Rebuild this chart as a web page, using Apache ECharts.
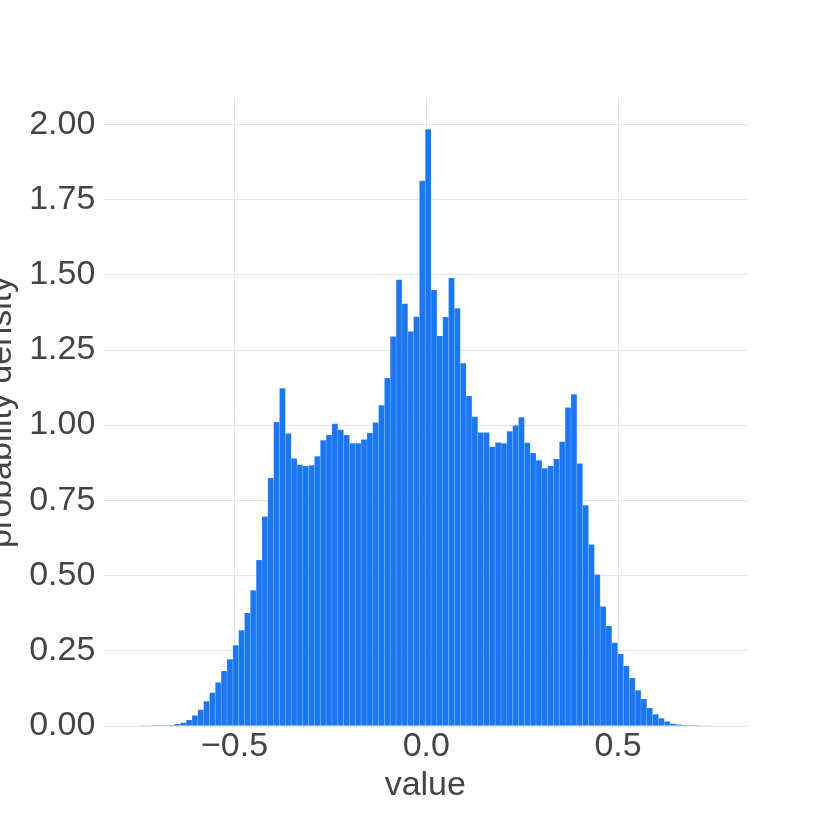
<!DOCTYPE html>
<html>
<head>
<meta charset="utf-8">
<script src="https://cdn.jsdelivr.net/npm/echarts@6/dist/echarts.min.js"></script>
<style>html,body{margin:0;padding:0;background:#fff;}#chart{width:830px;height:830px;}</style>
</head>
<body>
<div id="chart"></div>
<script>
// Histogram bins (regular width), density per bin
const firstBinStart = -0.7626;
const binWidth = 0.0152;
const densities = [
  0.0005, 0.001, 0.001, 0.0015, 0.002, 0.002, 0.003, 0.006, 0.010, 0.019,
  0.034, 0.053, 0.082, 0.110, 0.144, 0.182, 0.221, 0.268, 0.318, 0.375,
  0.451, 0.551, 0.696, 0.824, 1.010, 1.122, 0.972, 0.889, 0.868, 0.864,
  0.866, 0.896, 0.949, 0.967, 1.004, 0.984, 0.967, 0.939, 0.939, 0.952,
  0.973, 1.008, 1.066, 1.156, 1.294, 1.483, 1.403, 1.311, 1.360, 1.812,
  1.983, 1.449, 1.296, 1.359, 1.489, 1.388, 1.205, 1.096, 1.027, 0.975,
  0.975, 0.928, 0.942, 0.939, 0.979, 0.998, 1.026, 0.941, 0.907, 0.883,
  0.856, 0.864, 0.887, 0.944, 1.058, 1.102, 0.872, 0.733, 0.603, 0.503,
  0.397, 0.332, 0.276, 0.239, 0.199, 0.159, 0.118, 0.089, 0.059, 0.038,
  0.025, 0.014, 0.007, 0.004, 0.003, 0.002, 0.0015, 0.001, 0.001, 0.0005,
  0.0005
];
const xTicks = [-0.5, 0, 0.5];
const yTicks = [0, 0.25, 0.5, 0.75, 1.0, 1.25, 1.5, 1.75, 2.0];
const xTitle = 'value';
const yTitle = 'probability density';

const data = densities.map((d, i) => {
  const left = firstBinStart + i * binWidth;
  return [left, left + binWidth, d];
});

const chart = echarts.init(document.getElementById('chart'), null, {renderer: 'canvas'});
const fontFamily = '"Liberation Sans", Arial, sans-serif';
const textColor = '#444';
const gridColor = '#e6e6e6';

chart.setOption({
  backgroundColor: '#fff',
  animation: false,
  grid: {left: 103.3, top: 98, width: 644, height: 627.8, containLabel: false, outerBoundsMode: 'none'},
  xAxis: {
    type: 'value',
    min: -0.842,
    max: 0.837,
    name: xTitle,
    nameLocation: 'middle',
    nameGap: 40,
    nameTextStyle: {fontSize: 34, color: textColor, fontFamily: fontFamily},
    axisLine: {show: true, lineStyle: {color: gridColor, width: 1}},
    axisTick: {show: false, customValues: xTicks},
    axisLabel: {
      customValues: xTicks,
      fontSize: 34, color: textColor, fontFamily: fontFamily, margin: 4,
      formatter: v => (v < 0 ? '\u2212' + Math.abs(v).toFixed(1) : v.toFixed(1))
    },
    splitLine: {show: true, lineStyle: {color: gridColor, width: 1}}
  },
  yAxis: {
    type: 'value',
    min: 0,
    max: 2.087,
    name: yTitle,
    nameLocation: 'middle',
    nameGap: 78,
    nameTextStyle: {fontSize: 34, color: textColor, fontFamily: fontFamily},
    axisLine: {show: false},
    axisTick: {show: false, customValues: yTicks},
    axisLabel: {
      customValues: yTicks,
      fontSize: 34, color: textColor, fontFamily: fontFamily, margin: 8,
      formatter: v => v.toFixed(2)
    },
    splitLine: {show: true, lineStyle: {color: gridColor, width: 1}}
  },
  series: [{
    type: 'custom',
    clip: true,
    encode: {x: [0, 1], y: 2},
    data: data,
    renderItem: function (params, api) {
      const p0 = api.coord([api.value(0), api.value(2)]);
      const p1 = api.coord([api.value(1), 0]);
      return {
        type: 'rect',
        shape: {x: p0[0], y: p0[1], width: p1[0] - p0[0], height: p1[1] - p0[1]},
        style: {fill: '#1a76f2', stroke: 'rgba(255,255,255,0.25)', lineWidth: 0.5}
      };
    }
  }]
});
</script>
</body>
</html>
